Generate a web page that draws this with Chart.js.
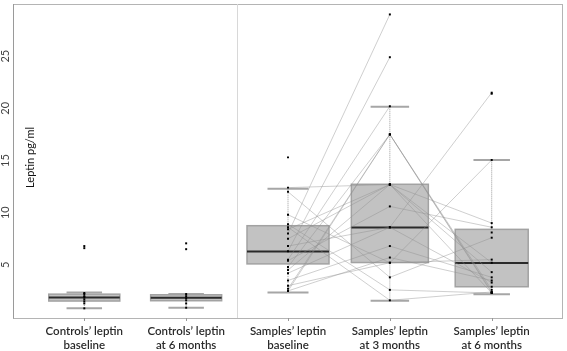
<!DOCTYPE html>
<html>
<head>
<meta charset="utf-8">
<script src="https://cdn.jsdelivr.net/npm/chart.js@4.4.1/dist/chart.umd.min.js"></script>
<style>
html,body{margin:0;padding:0;background:#fff;}
#wrap{width:567px;height:351px;position:relative;}
</style>
</head>
<body>
<div id="wrap"><canvas id="c" width="567" height="351"></canvas></div>
<script>
// ---- data ----
const categories = [
  ["Controls\u2019 leptin", "baseline"],
  ["Controls\u2019 leptin", "at 6 months"],
  ["Samples\u2019 leptin", "baseline"],
  ["Samples\u2019 leptin", "at 3 months"],
  ["Samples\u2019 leptin", "at 6 months"]
];
const yTicks = [5, 10, 15, 20, 25];
const yTitle = "Leptin pg/ml";

// box statistics per category
const boxLow    = [0.83, 0.89, 2.36, 1.56, 2.19];
const boxQ1     = [1.53, 1.56, 5.09, 5.22, 2.90];
const boxMedian = [1.88, 1.84, 6.27, 8.59, 5.18];
const boxQ3     = [2.19, 2.13, 8.75, 12.72, 8.40];
const boxHigh   = [2.36, 2.20, 12.3, 20.16, 15.05];

// individual observations
const controlsBaseline = [6.6, 6.8, 2.3, 2.2, 2.0, 1.9, 1.7, 1.5, 1.3, 0.83];
const controls6m       = [6.5, 7.06, 2.2, 2.0, 1.8, 1.6, 1.3, 0.89];

// paired samples (same subject at each index)
const samplesBaseline = [15.3, 12.4, 12.0, 9.8, 8.9, 8.6, 8.4, 8.0, 7.5, 6.8, 6.3, 5.5, 5.4, 4.8, 4.5, 4.2, 3.5, 2.7, 2.5, 2.5, 3.0];
const samples3m       = [null, 12.7, 3.8, 5.2, 2.6, 1.6, 12.7, 29.0, 12.7, 8.6, 24.9, 20.2, 10.6, 17.5, 12.7, 8.6, 6.8, 17.5, 17.5, 5.7, 5.2];
const samples6m       = [null, 9.0, 7.6, 5.5, 2.3, 2.4, 5.2, null, 2.3, 21.5, null, null, 8.6, 2.3, 4.3, 3.3, 3.8, 2.4, 2.6, 3.5, 15.05];
const samples6mExtra  = [21.4, 8.1, 2.9];

// ---- styles ----
const boxWidthPx = [71, 71, 82, 77, 73];
const fontFam = "Lato, 'Open Sans', sans-serif";

// ---- datasets ----
const datasets = [];
for (let i = 0; i < samplesBaseline.length; i++) {
  datasets.push({
    type: 'line',
    data: [
      {x: 3, y: samplesBaseline[i]},
      {x: 4, y: samples3m[i]},
      {x: 5, y: samples6m[i]}
    ],
    borderColor: 'rgba(140,140,140,0.42)',
    borderWidth: 1,
    pointRadius: 0,
    spanGaps: false,
    fill: false,
    order: 2
  });
}
const dots = [];
controlsBaseline.forEach(v => dots.push({x: 1, y: v}));
controls6m.forEach(v => dots.push({x: 2, y: v}));
samplesBaseline.forEach(v => { if (v !== null) dots.push({x: 3, y: v}); });
samples3m.forEach(v => { if (v !== null) dots.push({x: 4, y: v}); });
samples6m.forEach(v => { if (v !== null) dots.push({x: 5, y: v}); });
samples6mExtra.forEach(v => dots.push({x: 5, y: v}));
datasets.push({
  type: 'scatter',
  data: dots,
  pointStyle: 'rect',
  pointRadius: 1.4,
  backgroundColor: '#000',
  borderColor: '#000',
  borderWidth: 0,
  order: 1
});

// ---- plugin for boxes, frame and text ----
const decor = {
  id: 'decor',
  beforeDatasetsDraw(chart) {
    const {ctx, chartArea: a, scales: {x, y}} = chart;
    ctx.save();
    ctx.strokeStyle = '#b4b4b4';
    ctx.lineWidth = 1;
    ctx.strokeRect(a.left + 0.5, a.top + 0.5, a.right - a.left - 1, a.bottom - a.top + 1);
    ctx.strokeStyle = '#9a9a9a';
    ctx.beginPath();
    ctx.moveTo(a.left + 0.5, a.top); ctx.lineTo(a.left + 0.5, a.bottom + 1.5);
    ctx.stroke();
    const xd = Math.round(x.getPixelForValue(2.5)) + 0.5;
    ctx.strokeStyle = '#d8d8d8';
    ctx.beginPath(); ctx.moveTo(xd, a.top); ctx.lineTo(xd, a.bottom + 1); ctx.stroke();
    ctx.strokeStyle = '#999';
    categories.forEach((c, i) => {
      const px = Math.round(x.getPixelForValue(i + 1)) + 0.5;
      ctx.beginPath(); ctx.moveTo(px, a.bottom + 1); ctx.lineTo(px, a.bottom + 4); ctx.stroke();
    });
    for (let i = 0; i < categories.length; i++) {
      const cx = x.getPixelForValue(i + 1);
      const w = boxWidthPx[i];
      const yq1 = y.getPixelForValue(boxQ1[i]);
      const yq3 = y.getPixelForValue(boxQ3[i]);
      const ym = y.getPixelForValue(boxMedian[i]);
      const ylo = y.getPixelForValue(boxLow[i]);
      const yhi = y.getPixelForValue(boxHigh[i]);
      ctx.strokeStyle = '#9a9a9a';
      ctx.lineWidth = 1;
      ctx.setLineDash([1, 1]);
      ctx.beginPath();
      ctx.moveTo(cx, yq3); ctx.lineTo(cx, yhi);
      ctx.moveTo(cx, yq1); ctx.lineTo(cx, ylo);
      ctx.stroke();
      ctx.setLineDash([]);
      ctx.strokeStyle = '#a6a6a6';
      ctx.lineWidth = 2;
      ctx.beginPath();
      ctx.moveTo(cx - w / 4, yhi); ctx.lineTo(cx + w / 4, yhi);
      ctx.moveTo(cx - w / 4, ylo); ctx.lineTo(cx + w / 4, ylo);
      ctx.stroke();
      ctx.fillStyle = '#c2c2c2';
      ctx.fillRect(cx - w / 2, yq3, w, yq1 - yq3);
      ctx.strokeStyle = '#a2a2a2';
      ctx.lineWidth = 1.5;
      ctx.strokeRect(cx - w / 2, yq3, w, yq1 - yq3);
      ctx.strokeStyle = '#2a2a2a';
      ctx.lineWidth = 2;
      ctx.beginPath(); ctx.moveTo(cx - w / 2, ym); ctx.lineTo(cx + w / 2, ym); ctx.stroke();
    }
    ctx.restore();
  },
  afterDraw(chart) {
    const {ctx, chartArea: a, scales: {x, y}} = chart;
    ctx.save();
    ctx.fillStyle = '#444';
    ctx.font = '11px ' + fontFam;
    ctx.textAlign = 'center';
    ctx.textBaseline = 'middle';
    yTicks.forEach(v => {
      const py = y.getPixelForValue(v);
      ctx.save();
      ctx.translate(5, py);
      ctx.rotate(-Math.PI / 2);
      ctx.fillText(String(v), 0, 0);
      ctx.restore();
    });
    ctx.fillStyle = '#111';
    ctx.font = '11px ' + fontFam;
    ctx.save();
    ctx.translate(30, y.getPixelForValue(15.3));
    ctx.rotate(-Math.PI / 2);
    ctx.fillText(yTitle, 0, 0);
    ctx.restore();
    ctx.fillStyle = '#2a2a2a';
    ctx.font = '600 11.5px ' + fontFam;
    categories.forEach((lines, i) => {
      const px = x.getPixelForValue(i + 1);
      lines.forEach((t, j) => ctx.fillText(t, px, a.bottom + 14 + j * 14.5));
    });
    ctx.restore();
  }
};

new Chart(document.getElementById('c'), {
  type: 'scatter',
  data: { datasets },
  options: {
    responsive: false,
    animation: false,
    layout: { padding: { left: 13, right: 2, top: 2, bottom: 34 } },
    plugins: { legend: { display: false }, tooltip: { enabled: false } },
    scales: {
      x: { type: 'linear', min: 0.3, max: 5.7, display: false },
      y: { type: 'linear', min: 0, max: 30, display: false }
    }
  },
  plugins: [decor]
});
</script>
</body>
</html>
